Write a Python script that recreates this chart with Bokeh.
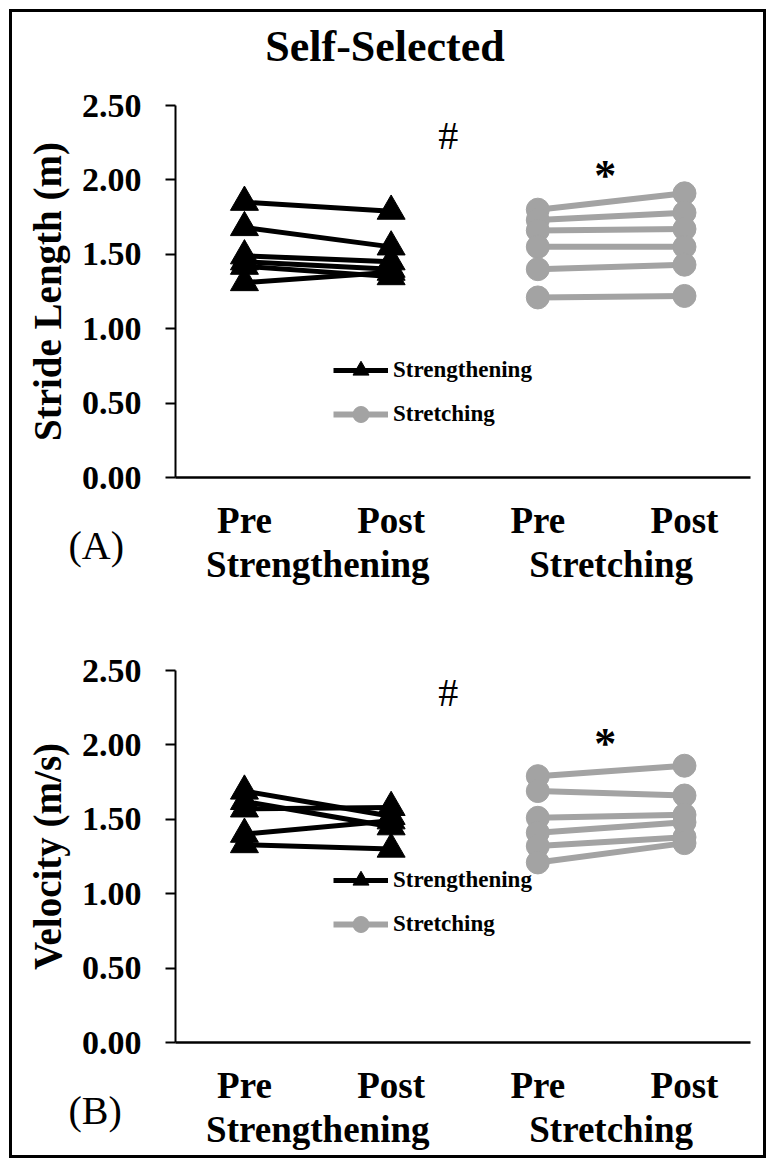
from bokeh.plotting import figure
from bokeh.models import (Range1d, FixedTicker, Legend, LegendItem, Label,
                          NumeralTickFormatter, LinearAxis, Title, Div)
from bokeh.layouts import column
from bokeh.embed import file_html
from bokeh.resources import INLINE

# ---------------- data ----------------
groups = ["Strengthening", "Stretching"]
x_strength = [1, 2]
x_stretch = [3, 4]
phase_labels = ["Pre", "Post", "Pre", "Post"]
y_ticks = [0.0, 0.5, 1.0, 1.5, 2.0, 2.5]

stride_strength_pre = [1.85, 1.68, 1.49, 1.45, 1.42, 1.31]
stride_strength_post = [1.79, 1.55, 1.45, 1.40, 1.35, 1.38]
stride_stretch_pre = [1.80, 1.73, 1.66, 1.55, 1.40, 1.21]
stride_stretch_post = [1.91, 1.78, 1.67, 1.55, 1.43, 1.22]

vel_strength_pre = [1.69, 1.62, 1.57, 1.40, 1.33]
vel_strength_post = [1.52, 1.45, 1.58, 1.49, 1.30]
vel_stretch_pre = [1.79, 1.69, 1.51, 1.41, 1.32, 1.21]
vel_stretch_post = [1.86, 1.66, 1.53, 1.48, 1.38, 1.34]

FONT = "Liberation Serif"
BLACK = "#000000"
GRAY = "#a3a3a3"


def make_panel(ylabel, letter, s_pre, s_post, t_pre, t_post, top, bottom, hash_y, star_y,
               legend_y):
    p = figure(x_range=Range1d(0.53, 4.45), y_range=Range1d(0, 2.5),
               frame_width=575, frame_height=372,
               min_border_left=163, min_border_right=13, min_border_top=top,
               min_border_bottom=bottom, output_backend="svg", toolbar_location=None,
               outline_line_color=None, background_fill_color="white",
               border_fill_color="white")
    p.grid.grid_line_color = None

    # y axis
    ya = p.yaxis[0]
    ya.ticker = FixedTicker(ticks=y_ticks)
    ya.formatter = NumeralTickFormatter(format="0.00")
    ya.axis_line_width = 2
    ya.major_tick_line_width = 2
    ya.major_tick_out = 10
    ya.major_tick_in = 0
    ya.minor_tick_line_color = None
    ya.major_label_text_font = FONT
    ya.major_label_text_font_style = "bold"
    ya.major_label_text_font_size = "34px"
    ya.major_label_text_color = BLACK
    ya.major_label_standoff = 24
    ya.axis_label = ylabel
    ya.axis_label_text_font = FONT
    ya.axis_label_text_font_style = "bold"
    ya.axis_label_text_font_size = "39px"
    ya.axis_label_text_color = BLACK
    ya.axis_label_standoff = 10

    # x axis : Pre / Post
    xa = p.xaxis[0]
    xa.ticker = FixedTicker(ticks=x_strength + x_stretch)
    xa.major_label_overrides = {x: lab for x, lab in zip(x_strength + x_stretch, phase_labels)}
    xa.axis_line_width = 2.5
    xa.major_tick_line_color = None
    xa.major_tick_out = 0
    xa.major_tick_in = 0
    xa.minor_tick_line_color = None
    xa.major_label_text_font = FONT
    xa.major_label_text_font_style = "bold"
    xa.major_label_text_font_size = "37px"
    xa.major_label_text_color = BLACK
    xa.major_label_standoff = 22

    # panel letter between the two label rows
    p.add_layout(Title(text=letter, align="left", offset=-107, vertical_align="middle",
                       standoff=-44, text_font=FONT, text_font_size="40px",
                       text_font_style="normal", text_color=BLACK), "below")

    # group names row
    group_ticks = [sum(x_strength) / 2, sum(x_stretch) / 2]
    ga = LinearAxis(ticker=FixedTicker(ticks=group_ticks),
                    major_label_overrides={t: g for t, g in zip(group_ticks, groups)})
    ga.axis_line_color = None
    ga.major_tick_line_color = None
    ga.major_tick_out = 0
    ga.major_tick_in = 0
    ga.minor_tick_line_color = None
    ga.major_label_text_font = FONT
    ga.major_label_text_font_style = "bold"
    ga.major_label_text_font_size = "37px"
    ga.major_label_text_color = BLACK
    ga.major_label_standoff = -3
    p.add_layout(ga, "below")

    a_x = [x_strength for _ in s_pre]
    a_y = [[a, b] for a, b in zip(s_pre, s_post)]
    b_x = [x_stretch for _ in t_pre]
    b_y = [[a, b] for a, b in zip(t_pre, t_post)]

    ml_a = p.multi_line(xs=a_x, ys=a_y, line_color=BLACK, line_width=5)
    sc_a = p.scatter(x=[x_strength[0]] * len(s_pre) + [x_strength[1]] * len(s_post),
                     y=s_pre + s_post, marker="triangle", size=28, color=BLACK)
    ml_b = p.multi_line(xs=b_x, ys=b_y, line_color=GRAY, line_width=6)
    sc_b = p.scatter(x=[x_stretch[0]] * len(t_pre) + [x_stretch[1]] * len(t_post),
                     y=t_pre + t_post, marker="circle", size=23, color=GRAY)

    legend = Legend(items=[LegendItem(label="Strengthening", renderers=[ml_a, sc_a]),
                           LegendItem(label="Stretching", renderers=[ml_b, sc_b])],
                    location=(158, legend_y), padding=0, margin=0, spacing=4,
                    glyph_width=55, glyph_height=40, label_height=40, label_standoff=5,
                    label_text_font=FONT, label_text_font_style="bold",
                    label_text_font_size="23px", label_text_color=BLACK,
                    border_line_color=None, background_fill_alpha=0)
    p.add_layout(legend)

    p.add_layout(Label(x=2.39, y=hash_y, text="#", text_font=FONT, text_font_size="40px",
                       text_align="center", text_baseline="middle", text_color=BLACK))
    p.add_layout(Label(x=3.46, y=star_y, text="*", text_font=FONT, text_font_style="bold",
                       text_font_size="44px", text_align="center", text_baseline="middle",
                       text_color=BLACK))
    return p


title = Div(text='<div style="width:746px;height:70px;line-height:70px;text-align:center;'
                 'font-family:\'Liberation Serif\';font-size:44px;font-weight:bold;color:#000;">'
                 'Self-Selected</div>', width=751, height=70, margin=(0, 0, 0, 0))

p1 = make_panel("Stride Length (m)", "(A)", stride_strength_pre, stride_strength_post,
                stride_stretch_pre, stride_stretch_post, top=23, bottom=123,
                hash_y=2.30, star_y=2.03, legend_y=43)
p2 = make_panel("Velocity (m/s)", "(B)", vel_strength_pre, vel_strength_post,
                vel_stretch_pre, vel_stretch_post, top=70, bottom=113,
                hash_y=2.35, star_y=2.01, legend_y=98)

layout = column(title, p1, p2, spacing=0, margin=(9, 0, 0, 9),
                styles={"border": "3px solid black"})

open("out.html", "w").write(file_html(layout, INLINE))
